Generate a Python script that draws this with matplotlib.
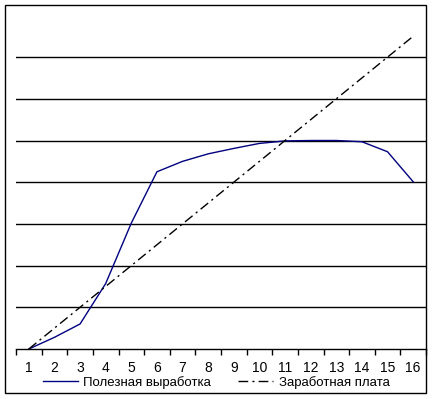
import matplotlib
matplotlib.use('Agg')
import matplotlib.pyplot as plt
from matplotlib.patches import Rectangle
import numpy as np

plt.rcParams['font.family'] = ['Liberation Sans', 'DejaVu Sans']

periods = list(range(1, 17))
useful_output = [0.0, 0.28, 0.60, 1.57, 3.02, 4.25, 4.50, 4.68, 4.81, 4.93, 4.99, 5.0, 5.0, 4.97, 4.73, 4.01]
wages = [0.0, 0.5, 1.0, 1.5, 2.0, 2.5, 3.0, 3.5, 4.0, 4.5, 5.0, 5.5, 6.0, 6.5, 7.0, 7.5]
series_names = ['Полезная выработка', 'Заработная плата']

W, H = 432, 399
fig = plt.figure(figsize=(W / 100, H / 100), dpi=100)
ax = fig.add_axes([16 / W, 1 - 349 / H, 410 / W, (349 - 15.4) / H])

# horizontal gridlines
for y in range(1, 8):
    ax.axhline(y, color='black', linewidth=1.0, zorder=1)

x = np.array(periods)
ax.plot(x, useful_output, color='#000080', linewidth=1.0, label=series_names[0], zorder=3)
ax.plot(x, wages, color='black', linewidth=1.0, dashes=(7, 3, 1.5, 3),
        label=series_names[1], zorder=3)

ax.set_xlim(0.5, 16.5)
ax.set_ylim(0, 8)
ax.set_yticks([])
for s in ['left', 'top', 'right']:
    ax.spines[s].set_visible(False)
ax.spines['bottom'].set_linewidth(1.0)

ax.set_xticks(x)
ax.set_xticklabels([str(p) for p in periods], fontsize=10)
ax.tick_params(axis='x', which='major', length=0, pad=8.5)
ax.set_xticks(np.arange(0.5, 17, 1), minor=True)
ax.tick_params(axis='x', which='minor', length=4, width=1.0, direction='out', color='black')

leg = fig.legend(loc='center', bbox_to_anchor=(0.5, 1 - 382.5 / H), ncol=2, frameon=False,
                 fontsize=9.5, handlelength=2.7, handletextpad=0.4, columnspacing=2.0,
                 borderpad=0, borderaxespad=0)

# outer chart border
fig.patches.append(Rectangle((5 / W, 1 - 393 / H), 421 / W, 388 / H, transform=fig.transFigure,
                             fill=False, edgecolor='black', linewidth=1.0))

fig.savefig('out.png', dpi=100)
